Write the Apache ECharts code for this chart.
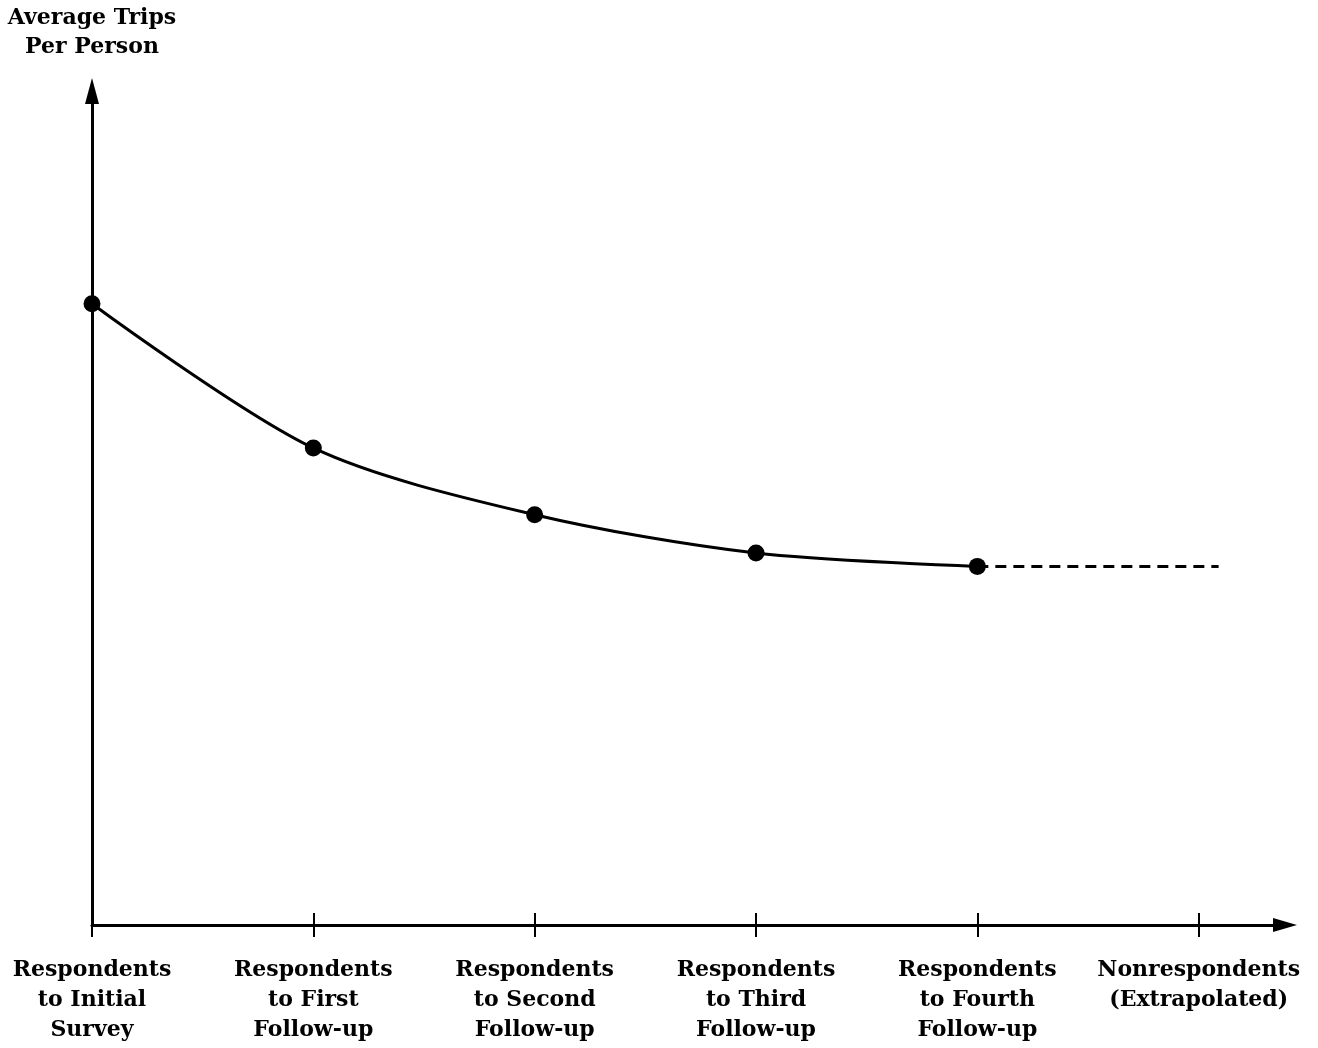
<!DOCTYPE html>
<html>
<head>
<meta charset="utf-8">
<script src="https://cdn.jsdelivr.net/npm/echarts@6/dist/echarts.min.js"></script>
<style>
html,body{margin:0;padding:0;background:#fff;}
#chart{width:1318px;height:1048px;}
</style>
</head>
<body>
<div id="chart"></div>
<script>
// ---- data (arbitrary units: y axis has no scale in the original) ----
const categories = [
  'Respondents\nto Initial\nSurvey',
  'Respondents\nto First\nFollow-up',
  'Respondents\nto Second\nFollow-up',
  'Respondents\nto Third\nFollow-up',
  'Respondents\nto Fourth\nFollow-up',
  'Nonrespondents\n(Extrapolated)'
];
const categoryPositions = [0, 1, 2, 3, 4, 5];
const tripValues = [7.45, 5.72, 4.92, 4.46, 4.30];
const extrapolatedX = [4, 5.09];
const extrapolatedValues = [4.30, 4.30];
const yAxisTitle = 'Average Trips\nPer Person';

const FONT = 'DejaVu Serif';

const chart = echarts.init(document.getElementById('chart'), null, {renderer: 'canvas'});
chart.setOption({
  backgroundColor: '#ffffff',
  animation: false,
  grid: {left: 92, right: 33, top: 91, bottom: 123, containLabel: false},
  xAxis: [{
    type: 'value', min: 0, max: 5.39, position: 'bottom',
    axisLine: {show: true, onZero: false, symbol: ['none', 'triangle'], symbolSize: [14, 24],
      lineStyle: {color: '#000', width: 3}},
    axisTick: {show: true, inside: false, length: 12, lineStyle: {color: '#000', width: 2},
      customValues: categoryPositions},
    axisLabel: {show: true, margin: 30, customValues: categoryPositions,
      formatter: v => categories[Math.round(v)] || '',
      color: '#000', fontFamily: FONT, fontWeight: 'bold', fontSize: 22, lineHeight: 30, align: 'center'},
    splitLine: {show: false}
  }, {
    type: 'value', min: 0, max: 5.39, position: 'bottom',
    axisLine: {show: false, onZero: false},
    axisTick: {show: true, inside: true, length: 12, lineStyle: {color: '#000', width: 2},
      customValues: categoryPositions.slice(1)},
    axisLabel: {show: false},
    splitLine: {show: false}
  }],
  yAxis: {
    type: 'value', min: 0, max: 10,
    name: yAxisTitle, nameLocation: 'end', nameGap: 29,
    nameTextStyle: {color: '#000', fontFamily: FONT, fontWeight: 'bold', fontSize: 22, lineHeight: 29, align: 'center'},
    axisLine: {show: true, symbol: ['none', 'triangle'], symbolSize: [14, 26],
      lineStyle: {color: '#000', width: 3}},
    axisTick: {show: false},
    axisLabel: {show: false},
    splitLine: {show: false}
  },
  series: [{
    type: 'line',
    data: tripValues.map((v, i) => [categoryPositions[i], v]),
    smooth: 0.3,
    symbol: 'circle', symbolSize: 17,
    itemStyle: {color: '#000'},
    lineStyle: {color: '#000', width: 3},
    z: 5
  }, {
    type: 'line',
    data: extrapolatedValues.map((v, i) => [extrapolatedX[i], v]),
    symbol: 'none',
    lineStyle: {color: '#000', width: 3, type: [11, 7]},
    z: 4
  }]
});
</script>
</body>
</html>
